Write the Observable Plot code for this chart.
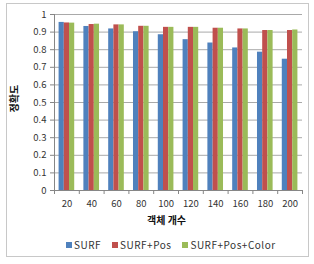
<!DOCTYPE html>
<html>
<head>
<meta charset="utf-8">
<script src="https://cdn.jsdelivr.net/npm/d3@7"></script>
<script src="https://cdn.jsdelivr.net/npm/@observablehq/plot@0.6"></script>
<style>
  html, body { margin: 0; padding: 0; background: #fff; }
  #wrap { position: relative; width: 314px; height: 264px; overflow: hidden; font-family: 'Noto Sans CJK KR', 'Noto Sans', sans-serif; }
  #frame { position: absolute; left: 6px; top: 3px; width: 303px; height: 254px; border: 1px solid #c8c8c8; box-sizing: border-box; }
  #chart { position: absolute; left: 0; top: 0; }
  #legend { position: absolute; left: 66px; top: 238px; display: flex; gap: 11px; font-size: 10px; letter-spacing: 0.5px; color: #333; line-height: 14px; }
  .item { display: flex; align-items: center; gap: 2px; }
  .sw { width: 6px; height: 6px; display: inline-block; }
</style>
</head>
<body>
<div id="wrap">
  <div id="frame"></div>
  <div id="chart"></div>
  <div id="legend"></div>
</div>
<script>
const counts = ["20", "40", "60", "80", "100", "120", "140", "160", "180", "200"];
const seriesNames = ["SURF", "SURF+Pos", "SURF+Pos+Color"];
const surf = [0.955, 0.932, 0.918, 0.902, 0.885, 0.857, 0.838, 0.810, 0.786, 0.746];
const surfPos = [0.952, 0.943, 0.941, 0.933, 0.927, 0.927, 0.922, 0.918, 0.909, 0.909];
const surfPosColor = [0.951, 0.945, 0.941, 0.933, 0.927, 0.927, 0.922, 0.918, 0.909, 0.912];
const yTicks = [0, 0.1, 0.2, 0.3, 0.4, 0.5, 0.6, 0.7, 0.8, 0.9, 1];
const colors = ["#4F81BD", "#C0504D", "#9BBB59"];
const yTitle = "정확도";
const xTitle = "객체 개수";

const seriesValues = [surf, surfPos, surfPosColor];
const rows = counts.flatMap((c, i) => seriesNames.map((s, k) => ({ i, k, c, s, v: seriesValues[k][i] })));
const gap = 0.37;
const bw = (1 - gap) / seriesNames.length;

const chart = Plot.plot({
  width: 314,
  height: 232,
  marginLeft: 54,
  marginRight: 12,
  marginTop: 14,
  marginBottom: 42,
  style: { fontFamily: "'Noto Sans CJK KR', 'Noto Sans', sans-serif", fontSize: "9.5px", color: "#333", background: "transparent" },
  x: { type: "linear", domain: [0, counts.length], axis: null },
  y: { domain: [0, 1], axis: null },
  color: { domain: seriesNames, range: colors },
  marks: [
    Plot.ruleY(yTicks.slice(1), { stroke: "#a9a9a9", strokeWidth: 1 }),
    Plot.rectY(rows, {
      x1: d => d.i + gap / 2 + d.k * bw,
      x2: d => d.i + gap / 2 + (d.k + 1) * bw,
      y1: 0,
      y2: d => d.v,
      fill: d => d.s
    }),
    Plot.ruleX([0], { y1: 0, y2: 1, stroke: "#868686" }),
    Plot.ruleY([0], { stroke: "#868686" }),
    Plot.axisY({ ticks: yTicks, tickSize: 4, tickPadding: 4, tickFormat: d => String(d), stroke: "#868686", fill: "#333", fontSize: 9.5 }),
    Plot.axisX({ ticks: d3.range(counts.length + 1), tickSize: 4, tickFormat: () => "", stroke: "#868686" }),
    Plot.text(counts, { x: (d, i) => i + 0.5, frameAnchor: "bottom", dy: 16, fill: "#333", fontSize: 9.5 }),
    Plot.text([yTitle], { frameAnchor: "left", rotate: -90, dx: -40, dy: 10, fontWeight: "bold", fontSize: 10, fill: "#111" }),
    Plot.text([xTitle], { frameAnchor: "bottom", dy: 33, dx: -12, fontWeight: "bold", fontSize: 10, fill: "#111" })
  ]
});
document.getElementById("chart").appendChild(chart);

const legend = document.getElementById("legend");
seriesNames.forEach((s, k) => {
  const item = document.createElement("div");
  item.className = "item";
  const sw = document.createElement("span");
  sw.className = "sw";
  sw.style.background = colors[k];
  const t = document.createElement("span");
  t.textContent = s;
  item.appendChild(sw);
  item.appendChild(t);
  legend.appendChild(item);
});
</script>
</body>
</html>
